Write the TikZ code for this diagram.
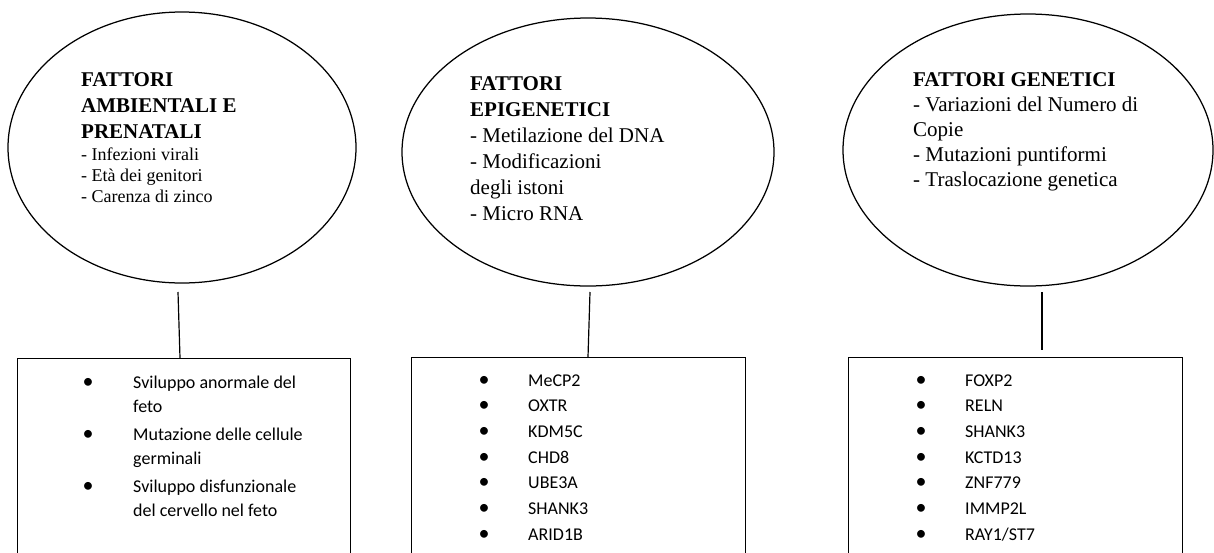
\documentclass[tikz,border=0pt]{standalone}
\usepackage{fontspec}
\setmainfont{Liberation Serif}
\newfontfamily\boxfont{Carlito}
\usetikzlibrary{shapes.geometric}
\tikzset{
  oval/.style={ellipse, draw, line width=1.25pt, inner sep=0pt},
  listbox/.style={draw, line width=1.3pt, anchor=north west, inner sep=0pt},
  link/.style={line width=1.2pt},
  headtxt/.style={anchor=base west, inner sep=0pt, align=left, font=\fontsize{21}{26}\selectfont\bfseries},
  smalltxt/.style={anchor=base west, inner sep=0pt, align=left, font=\fontsize{18}{21}\selectfont},
  ovaltxt/.style={anchor=base west, inner sep=0pt, align=left, font=\fontsize{21}{26}\selectfont},
  ovaltxtb/.style={anchor=base west, inner sep=0pt, align=left, font=\fontsize{21}{25}\selectfont},
  boxtxt/.style={anchor=base west, inner sep=0pt, align=left, font=\boxfont\fontsize{18}{25.7}\selectfont},
  boxtxta/.style={anchor=base west, inner sep=0pt, align=left, font=\boxfont\fontsize{18}{24.5}\selectfont},
  bul/.style={anchor=base, inner sep=0pt, align=center, font=\boxfont\fontsize{22}{25.7}\selectfont},
}
\begin{document}
\begin{tikzpicture}[x=1pt, y=-1pt]
\clip (0,0) rectangle (1214,552);
\fill[white] (0,0) rectangle (1214,552);

% ovals
\node[oval, minimum width=348pt, minimum height=271pt] (e1) at (182,147.5) {};
\node[oval, minimum width=372pt, minimum height=268pt] (e2) at (588,152) {};
\node[oval, minimum width=370pt, minimum height=272pt] (e3) at (1028,150) {};

% oval texts (anchored at the baseline of their last line)
\node[headtxt] (t1h) at (81,138) {FATTORI\\AMBIENTALI E\\PRENATALI};
\node[smalltxt] (t1b) at (81,202) {- Infezioni virali\\- Età dei genitori\\- Carenza di zinco};
\node[ovaltxt] (t2) at (470,220) {\textbf{FATTORI}\\\textbf{EPIGENETICI}\\- Metilazione del DNA\\- Modificazioni\\degli istoni\\- Micro RNA};
\node[ovaltxtb] (t3) at (913,186) {\textbf{FATTORI GENETICI}\\- Variazioni del Numero di\\Copie\\- Mutazioni puntiformi\\- Traslocazione genetica};

% boxes
\node[listbox, minimum width=333pt, minimum height=210pt] (b1) at (17,358) {};
\node[listbox, minimum width=334pt, minimum height=210pt] (b2) at (411,357) {};
\node[listbox, minimum width=334pt, minimum height=210pt] (b3) at (848,357) {};

% connectors
\coordinate (c1a) at (178,292);
\coordinate (c1b) at (180,358);
\coordinate (c2a) at (590,292);
\coordinate (c2b) at (588,357);
\coordinate (c3a) at (1042,292);
\coordinate (c3b) at (1042,350);
\draw[link] (c1a) -- (c1b);
\draw[link] (c2a) -- (c2b);
\draw[link] (c3a) -- (c3b);

% box 1
\node[bul] (d1a) at (88,388) {•};
\node[bul] (d1b) at (88,440) {•};
\node[bul] (d1c) at (88,492) {•};
\node[boxtxta] (x1a) at (133,412.5) {Sviluppo anormale del\\feto};
\node[boxtxta] (x1b) at (133,464.5) {Mutazione delle cellule\\germinali};
\node[boxtxta] (x1c) at (133,516.5) {Sviluppo disfunzionale\\del cervello nel feto};

% box 2
\node[bul] (d2) at (484,540.2) {•\\•\\•\\•\\•\\•\\•};
\node[boxtxt] (x2) at (528,540.2) {MeCP2\\OXTR\\KDM5C\\CHD8\\UBE3A\\SHANK3\\ARID1B};

% box 3
\node[bul] (d3) at (921,540.2) {•\\•\\•\\•\\•\\•\\•};
\node[boxtxt] (x3) at (965,540.2) {FOXP2\\RELN\\SHANK3\\KCTD13\\ZNF779\\IMMP2L\\RAY1/ST7};
\end{tikzpicture}
\end{document}
